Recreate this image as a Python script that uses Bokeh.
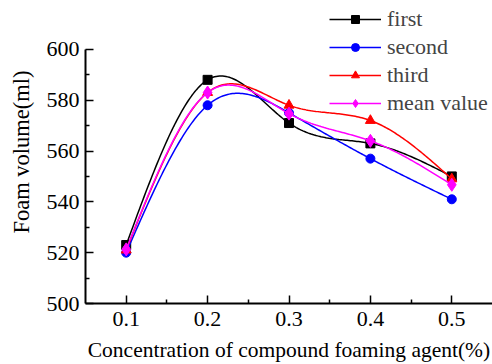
import numpy as np
from bokeh.plotting import figure
from bokeh.models import FixedTicker, Range1d, Legend, LegendItem
from bokeh.embed import file_html
from bokeh.resources import INLINE

# Foam volume (ml) versus concentration of the compound foaming agent (%)
concentration = [0.1, 0.2, 0.3, 0.4, 0.5]
first = [523, 588, 571, 563, 550]
second = [520, 578, 575, 557, 541]
third = [521, 583, 578, 572, 549]
mean_value = [521.3, 583.0, 574.7, 564.0, 546.7]

x_ticks = [0.1, 0.2, 0.3, 0.4, 0.5]
y_ticks = [500, 520, 540, 560, 580, 600]

FONT = "'Liberation Serif'"


def natural_spline(xs, ys, n=200):
    """Smooth connecting curve through the measured points (natural cubic spline)."""
    xs = np.asarray(xs, float)
    ys = np.asarray(ys, float)
    k = len(xs)
    h = np.diff(xs)
    A = np.zeros((k, k))
    b = np.zeros(k)
    A[0, 0] = A[-1, -1] = 1.0
    for i in range(1, k - 1):
        A[i, i - 1] = h[i - 1]
        A[i, i] = 2 * (h[i - 1] + h[i])
        A[i, i + 1] = h[i]
        b[i] = 3 * ((ys[i + 1] - ys[i]) / h[i] - (ys[i] - ys[i - 1]) / h[i - 1])
    c = np.linalg.solve(A, b)
    xx = np.linspace(xs[0], xs[-1], n)
    idx = np.clip(np.searchsorted(xs, xx, side="right") - 1, 0, k - 2)
    dx = xx - xs[idx]
    bcoef = (ys[idx + 1] - ys[idx]) / h[idx] - h[idx] * (2 * c[idx] + c[idx + 1]) / 3
    dcoef = (c[idx + 1] - c[idx]) / (3 * h[idx])
    yy = ys[idx] + bcoef * dx + c[idx] * dx ** 2 + dcoef * dx ** 3
    return xx, yy


# The frame runs to the top edge so the legend has room above the 600 line;
# the y axis itself is bounded to 500..600.
p = figure(
    width=492, height=364,
    output_backend="svg", toolbar_location=None,
    x_range=Range1d(0.05, 0.55), y_range=Range1d(500, 600 + 49 / 2.55),
    min_border_left=85, min_border_right=0, min_border_top=0, min_border_bottom=60,
)
p.outline_line_color = None
p.xgrid.visible = False
p.ygrid.visible = False
p.background_fill_color = "white"
p.border_fill_color = "white"

for ax in (p.xaxis[0], p.yaxis[0]):
    ax.axis_line_width = 2
    ax.axis_line_color = "black"
    ax.major_tick_line_width = 1.5
    ax.minor_tick_line_width = 1.5
    ax.major_tick_out = 0
    ax.major_tick_in = 8
    ax.minor_tick_out = 0
    ax.minor_tick_in = 4
    ax.major_label_text_font = FONT
    ax.major_label_text_font_size = "22px"
    ax.major_label_text_color = "black"
    ax.axis_label_text_font = FONT
    ax.axis_label_text_font_style = "normal"
    ax.axis_label_text_color = "black"

p.yaxis.bounds = (500, 600)
p.xaxis.ticker = FixedTicker(ticks=x_ticks, minor_ticks=[0.15, 0.25, 0.35, 0.45])
p.yaxis.ticker = FixedTicker(ticks=y_ticks, minor_ticks=[510, 530, 550, 570, 590])
p.xaxis.major_label_standoff = 8
p.yaxis.major_label_standoff = 6
p.yaxis.axis_label = "Foam volume(ml)"
p.yaxis.axis_label_text_font_size = "22.5px"
p.yaxis.axis_label_standoff = 10
p.xaxis.axis_label = "Concentration of compound foaming agent(%)"
p.xaxis.axis_label_text_font_size = "21.5px"
p.xaxis.axis_label_standoff = 9

series = [
    ("first", first, "#000000", "square", 9),
    ("second", second, "#0000FF", "circle", 9),
    ("third", third, "#FF0000", "triangle", 10),
    ("mean value", mean_value, "#FF00FF", "diamond", 13),
]

items = []
for name, ys, color, marker, size in series:
    sx, sy = natural_spline(concentration, ys)
    ln = p.line(sx, sy, line_color=color, line_width=1.5)
    mk = p.scatter(concentration, ys, marker=marker, size=size,
                   fill_color=color, line_color=color)
    items.append(LegendItem(label=name, renderers=[ln, mk]))

legend = Legend(
    items=items, location=(244, 187),
    border_line_color=None, background_fill_alpha=0,
    label_text_font=FONT, label_text_font_size="22px",
    glyph_width=52, glyph_height=20, label_height=20,
    spacing=2, padding=0, margin=0, label_standoff=6,
)
p.add_layout(legend, "center")

open("out.html", "w").write(file_html(p, INLINE))
